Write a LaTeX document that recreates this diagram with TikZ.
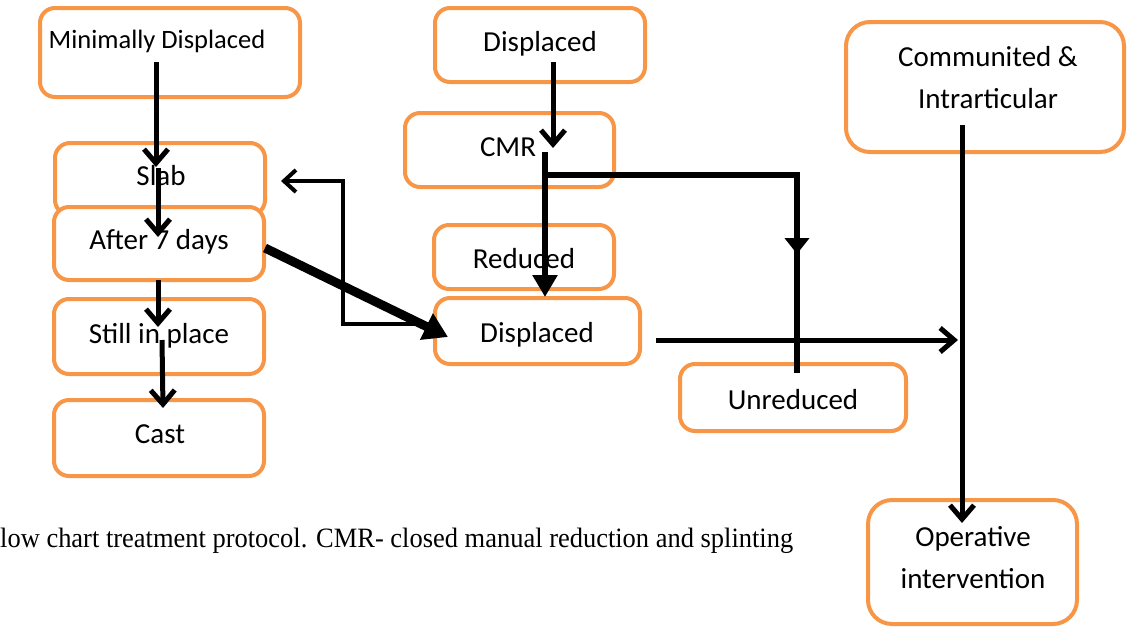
\documentclass[tikz,border=0pt]{standalone}
\usepackage{fontspec}
\usepackage{graphicx}
\setmainfont{Carlito}
\newfontfamily\capfont{Liberation Serif}
\usetikzlibrary{arrows.meta}
\definecolor{boxorange}{HTML}{F79646}
\tikzset{
  box/.style={draw=boxorange, line width=4pt, rounded corners=15pt, fill=white, inner sep=0pt},
  txt/.style={font=\fontsize{29}{42}\selectfont, inner sep=0pt, anchor=base, align=center},
  arr/.style={line width=5pt, -{Straight Barb[length=14pt,width=24pt,line width=5pt]}},
  tarr/.style={line width=6pt, -{Triangle[length=22pt,width=24pt]}},
  plain/.style={line width=6pt},
}
\begin{document}
\begin{tikzpicture}[x=1pt,y=-1pt]
\useasboundingbox (0,0) rectangle (1128,627);
% boxes
\node[box, minimum width=260pt, minimum height=89pt] (md) at (170,52.5) {};
\node[box, minimum width=210pt, minimum height=72pt] (slab) at (160,179) {};
\node[box, minimum width=210pt, minimum height=73pt] (after) at (159,243.5) {};
\node[box, minimum width=210pt, minimum height=75pt] (still) at (159,336.5) {};
\node[box, minimum width=210pt, minimum height=76pt] (cast) at (159,438) {};
\node[box, minimum width=210pt, minimum height=74pt] (dtop) at (540,45) {};
\node[box, minimum width=209pt, minimum height=74pt] (cmr) at (509.5,150) {};
\node[box, minimum width=180pt, minimum height=64pt] (red) at (524,257) {};
\node[box, minimum width=205pt, minimum height=66pt] (dmid) at (537.5,331) {};
\node[box, minimum width=226pt, minimum height=67pt] (unred) at (793,397.5) {};
\node[box, minimum width=278pt, minimum height=130pt, rounded corners=24pt] (comm) at (985,87) {};
\node[box, minimum width=209pt, minimum height=124pt, rounded corners=24pt] (oper) at (972.5,562) {};
% texts
\node[txt, font=\fontsize{26.5}{32}\selectfont] (mdt) at (157,48) {Minimally Displaced};
\node[txt] (slabt) at (161,185) {Slab};
\node[txt] (aftert) at (159,249) {After 7 days};
\node[txt] (stillt) at (159,343) {Still in place};
\node[txt] (castt) at (160,443) {Cast};
\node[txt] (dtopt) at (540,51) {Displaced};
\node[txt] (cmrt) at (508,156) {CMR};
\node[txt] (redt) at (524,268) {Reduced};
\node[txt] (dmidt) at (537,342) {Displaced};
\node[txt] (unredt) at (793,409) {Unreduced};
\node[txt] (commt) at (988,108) {Communited \&\\Intrarticular};
\node[txt] (opert) at (973,588) {Operative\\intervention};
\node[anchor=base west, inner sep=0pt] (cap) at (0,547) {\resizebox{793pt}{\height}{\capfont\fontsize{28}{32}\selectfont low chart treatment protocol. CMR- closed manual reduction and splinting}};
% connector coordinates
\coordinate (a1) at (156,62);   \coordinate (a2) at (156,167);
\coordinate (b1) at (158,168);  \coordinate (b2) at (158,237);
\coordinate (c1) at (158,280);  \coordinate (c2) at (158,327);
\coordinate (d1) at (162,340);  \coordinate (d2) at (163,408);
\coordinate (e1) at (553,62);   \coordinate (e2) at (553,148);
\coordinate (f1) at (545,152);  \coordinate (f2) at (545,297);
\coordinate (g1) at (545,175);  \coordinate (g2) at (797,175);
\coordinate (g3) at (797,254);  \coordinate (g5) at (797,244);
\coordinate (g4) at (797,373);
\coordinate (h1) at (265,248);  \coordinate (h2) at (448,337);
\coordinate (i1) at (433,324);  \coordinate (i2) at (343,324);
\coordinate (i3) at (343,181);  \coordinate (i4) at (281,181);
\coordinate (j1) at (656,340);  \coordinate (j2) at (958,340);
\coordinate (k1) at (962,125);  \coordinate (k2) at (962,523);
% connectors
\draw[arr] (a1) -- (a2);
\draw[arr] (b1) -- (b2);
\draw[arr] (c1) -- (c2);
\draw[arr] (d1) -- (d2);
\draw[arr] (e1) -- (e2);
\draw[tarr] (f1) -- (f2);
\draw[plain] (g5) -- (g4);
\draw[line width=6pt, -{Triangle[length=16pt,width=24pt]}] (g1) -- (g2) -- (g3);
\draw[line width=9pt, -{Triangle[length=24pt,width=28pt]}] (h1) -- (h2);
\draw[line width=4pt, -{Straight Barb[length=12pt,width=22pt,line width=4pt]}] (i1) -- (i2) -- (i3) -- (i4);
\draw[arr] (j1) -- (j2);
\draw[arr] (k1) -- (k2);
\end{tikzpicture}
\end{document}
